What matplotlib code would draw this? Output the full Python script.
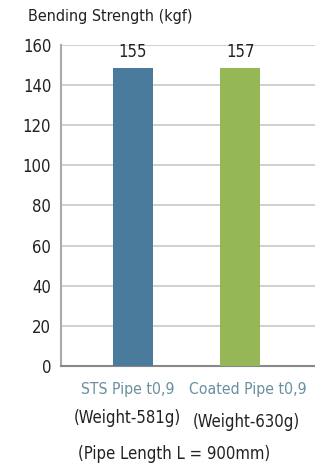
import matplotlib
matplotlib.use("Agg")
import matplotlib.pyplot as plt
from matplotlib import font_manager

# data
categories = ["STS Pipe t0,9", "Coated Pipe t0,9"]
weights = ["(Weight-581g)", "(Weight-630g)"]
bar_heights = [148.5, 148.5]      # drawn height of the bars
value_labels = ["155", "157"]     # printed values above the bars
colors = ["#4a7a9c", "#96b755"]
yticks = [0, 20, 40, 60, 80, 100, 120, 140, 160]

# look for a narrow face, the reference uses a condensed font
narrow = None
for f in font_manager.fontManager.ttflist:
    if 'Narrow' in f.name or 'Condensed' in f.name:
        narrow = f.name
        break
    if f.name == 'DejaVu Sans' and f.stretch == 'condensed':
        narrow = 'DejaVu Sans'
        break
if narrow:
    plt.rcParams['font.family'] = [narrow, 'DejaVu Sans']
    plt.rcParams['font.stretch'] = 'condensed'
    scale = 1.0
else:
    scale = 0.85

fig = plt.figure(figsize=(3.15, 4.69), dpi=100)
ax = fig.add_axes([61 / 315, 1 - 366 / 469, 1 - 61 / 315, 321 / 469])

x = [0, 1]
ax.bar(x, bar_heights, width=0.374, color=colors, zorder=3)
for xi, lab, h in zip(x, value_labels, bar_heights):
    ax.text(xi, 152, lab, ha='center', va='bottom', fontsize=12 * scale, color='#222222')

ax.set_xlim(-0.673, 1.70)
ax.set_ylim(0, 160)
ax.set_yticks(yticks)
ax.yaxis.grid(True, color='#c8c8c8', linewidth=1.2, zorder=0)
ax.tick_params(axis='y', length=0, labelsize=12 * scale, pad=7, colors='#222222')
ax.set_xticks([])
for s in ['top', 'right']:
    ax.spines[s].set_visible(False)
ax.spines['left'].set_color('#aaaaaa')
ax.spines['left'].set_linewidth(1.5)
ax.spines['bottom'].set_color('#888888')
ax.spines['bottom'].set_linewidth(1.5)

fig.text(28 / 315, 1 - 17 / 469, "Bending Strength (kgf)", fontsize=11.5 * scale,
         va='center', ha='left', color='#222222')

cat_x = [128 / 315, 248 / 315]
for xf, cat in zip(cat_x, categories):
    fig.text(xf, 1 - 389 / 469, cat, fontsize=11.3 * scale, color='#6a8fa0',
             ha='center', va='center')
w_x = [127 / 315, 246 / 315]
for xf, w, yy in zip(w_x, weights, [418, 422]):
    fig.text(xf, 1 - yy / 469, w, fontsize=12 * scale, color='#222222',
             ha='center', va='center')
fig.text(174 / 315, 1 - 454 / 469, "(Pipe Length L = 900mm)", fontsize=12 * scale,
         color='#222222', ha='center', va='center')

fig.savefig("out.png", dpi=100)
